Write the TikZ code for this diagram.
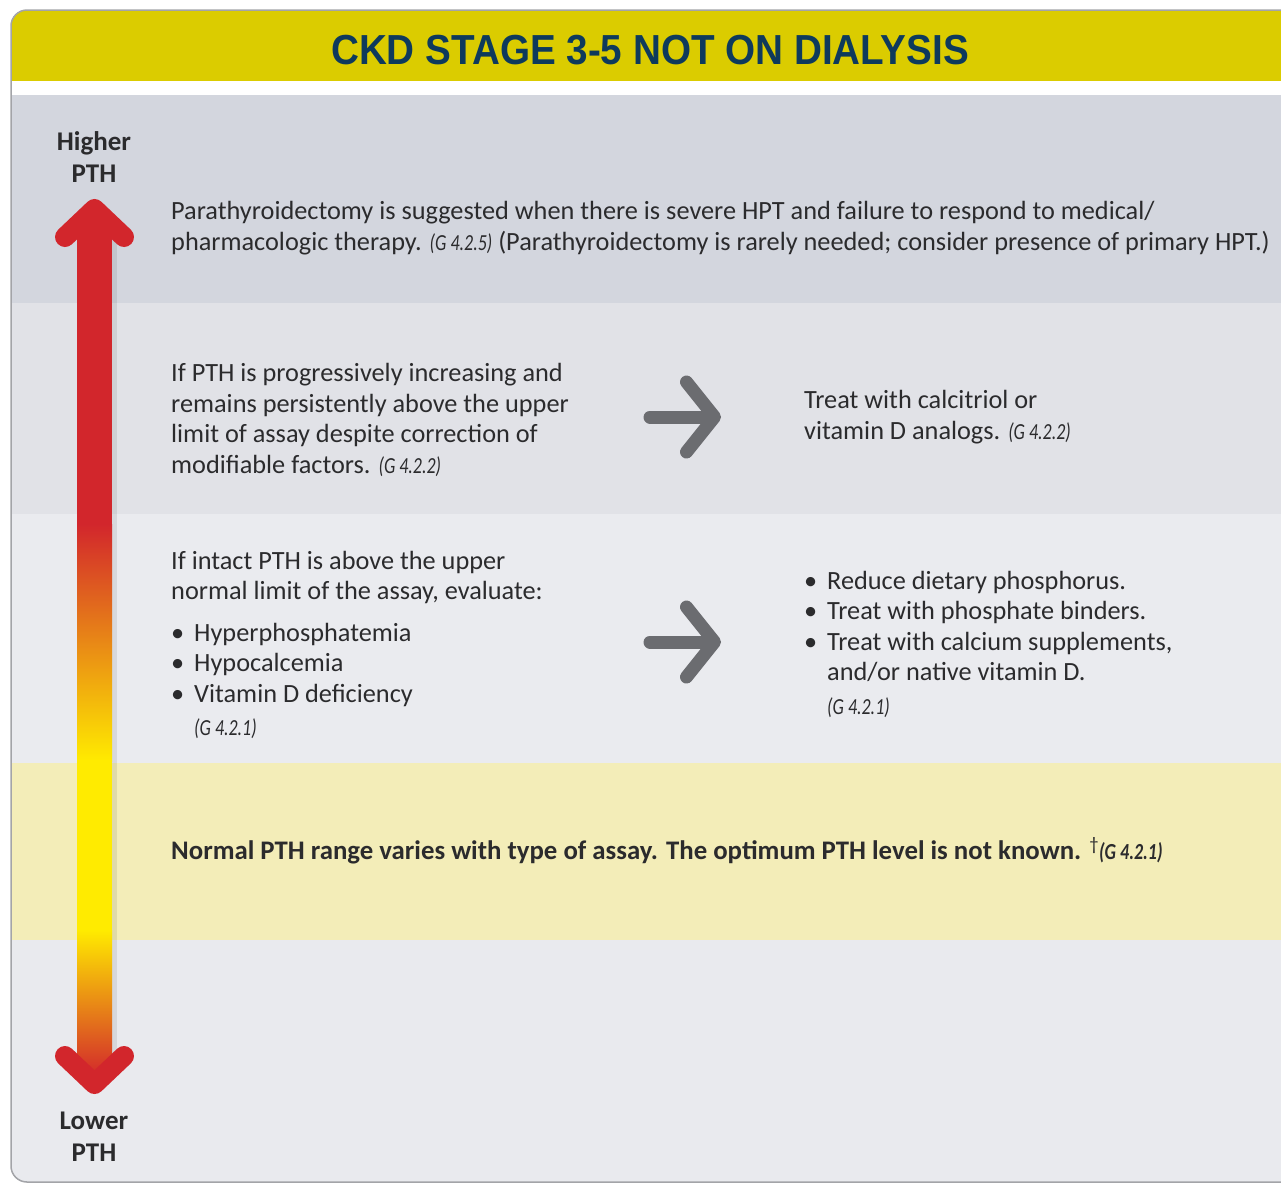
\documentclass[tikz,border=0pt]{standalone}
\usepackage{fontspec}
\setmainfont{Carlito}
\newfontfamily\titlefont{Liberation Sans}[FakeStretch=0.92]
\newfontfamily\reffont{Carlito}[FakeStretch=0.78]
\usetikzlibrary{positioning,arrows.meta}

\definecolor{titlebar}{HTML}{DBCC00}
\definecolor{titleink}{HTML}{0E3A5C}
\definecolor{bandA}{HTML}{D3D6DE}
\definecolor{bandB}{HTML}{E1E2E7}
\definecolor{bandC}{HTML}{EAEBEF}
\definecolor{bandN}{HTML}{F3EDB8}
\definecolor{bandD}{HTML}{E9EAEE}
\definecolor{framegray}{HTML}{A3A4A8}
\definecolor{ink}{HTML}{2B2B2D}
\definecolor{pthred}{HTML}{D2262C}
\definecolor{pthorange}{HTML}{E3751F}
\definecolor{pthyellow}{HTML}{FFEB00}
\definecolor{gogray}{HTML}{6B6C70}

\newcommand{\gref}[1]{{\reffont\itshape\fontsize{23}{24}\selectfont(G~#1)}}

\begin{document}
\begin{tikzpicture}[
        x=1pt, y=-1pt,
        body/.style={font=\fontsize{26.3}{30.5}\selectfont, text=ink, align=left, inner sep=0pt},
        scale label/.style={font=\bfseries\fontsize{27}{32}\selectfont, text=ink, align=center, inner sep=0pt},
        go arrow/.style={draw=gogray, line width=13pt, line cap=round,
            -{Straight Barb[round, length=28pt, width=70pt]}},
        pth head/.style={draw=pthred, line width=20pt, line cap=round, line join=round}
    ]
    \useasboundingbox (0,0) rectangle (1281,1184);

    % Frame and bands
    \begin{scope}
        \clip[rounded corners=16pt] (11,10) rectangle (1330,1182);
        \fill[white] (11,10) rectangle (1281,1182);
        \fill[titlebar] (11,10) rectangle (1281,81);
        \fill[bandA] (11,95) rectangle (1281,303);
        \fill[bandB] (11,303) rectangle (1281,514);
        \fill[bandC] (11,514) rectangle (1281,763);
        \fill[bandN] (11,763) rectangle (1281,940);
        \fill[bandD] (11,940) rectangle (1281,1182);
    \end{scope}
    \draw[framegray, line width=1.5pt, rounded corners=16pt] (1330,1182) -- (11,1182) -- (11,10) -- (1330,10);

    % Title
    \node[font=\titlefont\bfseries\fontsize{42}{42}\selectfont, text=titleink] (title) at (650,50) {CKD STAGE 3-5 NOT ON DIALYSIS};

    % Scale labels
    \node[scale label] (hi) at (94,157) {Higher\\PTH};
    \node[scale label] (lo) at (94,1137) {Lower\\PTH};

    % PTH bar
    \fill[black, opacity=.08] (112,238) rectangle (117,1056);
    \fill[pthred] (77,216) rectangle (112,525);
    \shade[top color=pthred, middle color=pthorange, bottom color=pthyellow] (77,524) rectangle (112,761);
    \fill[pthyellow] (77,760) rectangle (112,931);
    \shade[top color=pthyellow, middle color=pthorange, bottom color=pthred] (77,930) rectangle (112,1078);
    \draw[pth head] (65,237) -- (94.5,209) -- (124,237);
    \draw[pth head] (65,1056) -- (94.5,1084) -- (124,1056);

    % Texts
    \node[body, anchor=west] (surg) at (171,228) {Parathyroidectomy is suggested when there is severe HPT and failure to respond to medical/\\pharmacologic therapy. \gref{4.2.5} (Parathyroidectomy is rarely needed; consider presence of primary HPT.)};

    \node[body, anchor=west] (rise) at (171,420) {If PTH is progressively increasing and\\remains persistently above the upper\\limit of assay despite correction of\\modifiable factors. \gref{4.2.2}};
    \coordinate (s1) at (650,417);
    \coordinate (e1) at (721,417);
    \node[body, right=83pt of e1] (calc) {Treat with calcitriol or\\vitamin D analogs. \gref{4.2.2}};

    \node[body, anchor=north west] (eval) at (171,551) {If intact PTH is above the upper\\normal limit of the assay, evaluate:\\[11pt]
        \makebox[23pt][l]{\textbullet}Hyperphosphatemia\\
        \makebox[23pt][l]{\textbullet}Hypocalcemia\\
        \makebox[23pt][l]{\textbullet}Vitamin D deficiency\\[3pt]
        \hspace*{23pt}\gref{4.2.1}};
    \coordinate (s2) at (650,642);
    \coordinate (e2) at (721,642);
    \node[body, anchor=north west] (treat) at (804,571) {\makebox[23pt][l]{\textbullet}Reduce dietary phosphorus.\\
        \makebox[23pt][l]{\textbullet}Treat with phosphate binders.\\
        \makebox[23pt][l]{\textbullet}Treat with calcium supplements,\\
        \hspace*{23pt}and/or native vitamin D.\\[3pt]
        \hspace*{23pt}\gref{4.2.1}};

    \node[body, font=\bfseries\fontsize{26.8}{30.5}\selectfont, anchor=west] (norm) at (171,851) {Normal PTH range varies with type of assay. The optimum PTH level is not known. \textsuperscript{\textmd{\dag}}\gref{4.2.1}};

    % Arrows
    \draw[go arrow] (s1) -- (e1);
    \draw[go arrow] (s2) -- (e2);
\end{tikzpicture}
\end{document}
